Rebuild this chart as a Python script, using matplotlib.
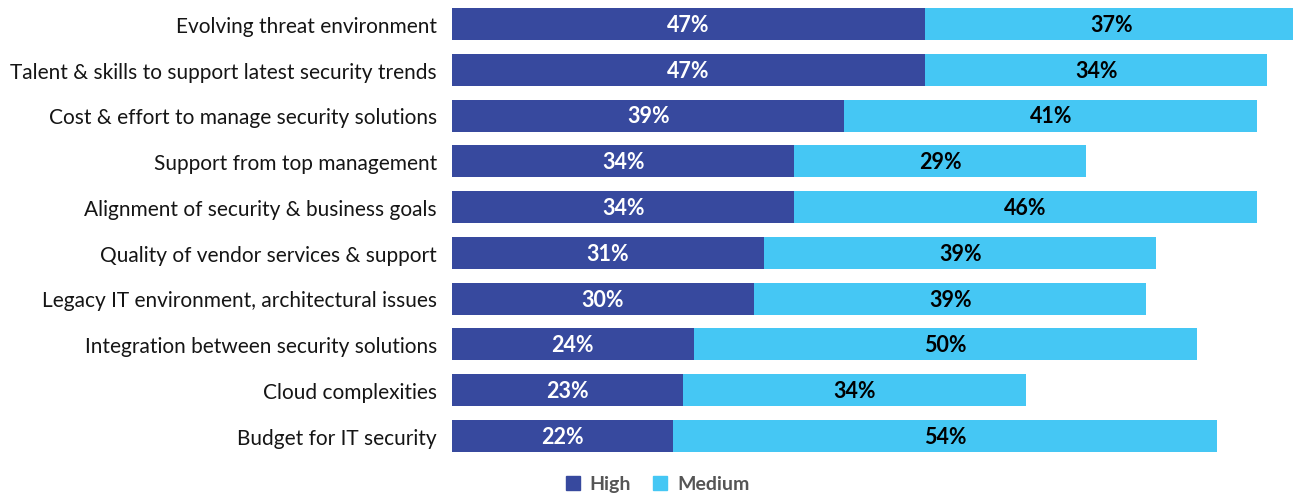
import matplotlib.pyplot as plt
from matplotlib.patches import Patch

# Challenges, ranked by share rating them high / medium
categories = [
    "Evolving threat environment",
    "Talent & skills to support latest security trends",
    "Cost & effort to manage security solutions",
    "Support from top management",
    "Alignment of security & business goals",
    "Quality of vendor services & support",
    "Legacy IT environment, architectural issues",
    "Integration between security solutions",
    "Cloud complexities",
    "Budget for IT security",
]
high = [47, 47, 39, 34, 34, 31, 30, 24, 23, 22]
medium = [37, 34, 41, 29, 46, 39, 39, 50, 34, 54]

c_high = "#37499e"
c_med = "#45c7f4"

plt.rcParams["font.family"] = ["Lato", "DejaVu Sans"]

fig = plt.figure(figsize=(12.93, 4.94), dpi=100)
ax = fig.add_axes([452 / 1293, 0, 841 / 1293, 1])

y = list(range(len(categories)))
ax.barh(y, high, height=0.7, color=c_high)
ax.barh(y, medium, left=high, height=0.7, color=c_med)

for i, (h, m) in enumerate(zip(high, medium)):
    ax.text(h / 2, i + 0.03, f"{h}%", ha="center", va="center", color="white",
            fontsize=15.5, fontweight="bold")
    ax.text(h + m / 2, i + 0.03, f"{m}%", ha="center", va="center", color="black",
            fontsize=15.5, fontweight="bold")
    ax.text(-1.5, i + 0.06, categories[i], ha="right", va="center", color="#151515",
            fontsize=15, clip_on=False)

ax.set_xlim(0, 841 / 10.064)
ax.set_ylim(10.267, -0.524)
ax.axis("off")

handles = [Patch(color=c_high, label="High"), Patch(color=c_med, label="Medium")]
fig.legend(handles=handles, loc="center", bbox_to_anchor=(0.5085, 0.02),
           ncol=2, frameon=False, handlelength=0.75, handleheight=0.75,
           handletextpad=0.5, columnspacing=1.1, borderpad=0.1,
           prop={"weight": "bold", "size": 14}, labelcolor="#555555")

fig.savefig("out.png", dpi=100)
